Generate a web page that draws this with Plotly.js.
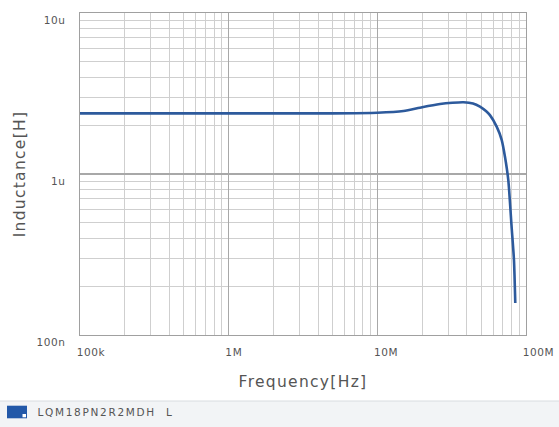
<!DOCTYPE html>
<html>
<head>
<meta charset="utf-8">
<script src="https://cdn.plot.ly/plotly-3.0.1.min.js"></script>
<style>
html,body{margin:0;padding:0;background:#fff;}
#chart{width:559px;height:427px;}
#chart .xtick text, #chart .ytick text { letter-spacing: 0.6px; }
#chart .g-xtitle text, #chart .g-ytitle text { letter-spacing: 1.3px; }
#chart .annotation-text { letter-spacing: 1.7px; }
</style>
</head>
<body>
<div id="chart"></div>
<script>
// Frequency [Hz]
const freq = [1e5, 2e5, 5e5, 1e6, 2e6, 5e6, 1e7, 1.5e7, 2e7, 2.64e7, 3.2e7, 3.8e7, 4.4e7, 4.9e7, 5.4e7, 5.72e7, 6.35e7, 6.86e7, 7.22e7, 7.6e7, 8.0e7, 8.3e7, 8.47e7];
// Inductance [H]
const induct = [2.38e-6, 2.38e-6, 2.38e-6, 2.38e-6, 2.38e-6, 2.38e-6, 2.40e-6, 2.46e-6, 2.60e-6, 2.72e-6, 2.77e-6, 2.79e-6, 2.74e-6, 2.62e-6, 2.45e-6, 2.32e-6, 1.97e-6, 1.63e-6, 1.28e-6, 0.918e-6, 0.471e-6, 0.292e-6, 0.158e-6];
const seriesName = "LQM18PN2R2MDH  L";
const xTickVals = [1e5, 1e6, 1e7, 1e8];
const xTickText = ["100k", "1M", "10M", "100M"];
const yTickVals = [1e-5, 1e-6, 1e-7];
const yTickText = ["10u", "1u", "100n"];

function minorVals(lo, hi) {
  const v = [];
  for (let d = lo; d < hi; d++) for (let m = 2; m <= 9; m++) v.push(m * Math.pow(10, d));
  return v;
}

const FONT = "DejaVu Sans, Verdana, sans-serif";
const tickFont = {family: FONT, size: 10.5, color: "#555"};
const titleFont = {family: FONT, size: 15.5, color: "#555"};

const trace = {
  x: freq, y: induct, type: "scatter", mode: "lines", name: seriesName,
  line: {color: "#2d5a9c", width: 2.6, shape: "spline", smoothing: 0.6},
  showlegend: false
};

const layout = {
  width: 559, height: 427,
  margin: {l: 80, r: 33, t: 13, b: 92},
  paper_bgcolor: "#fff", plot_bgcolor: "#fff",
  xaxis: {
    type: "log", range: [5, 8],
    tickvals: xTickVals, ticktext: xTickText,
    ticklabelposition: "outside right",
    ticklabelstandoff: 7,
    ticklabelshift: -4,
    ticks: "", tickfont: tickFont,
    showgrid: true, gridcolor: "#a8a8a8", gridwidth: 1.4,
    minor: {tickvals: minorVals(5, 8), showgrid: true, gridcolor: "#cfcfcf", gridwidth: 1, ticks: ""},
    showline: true, linecolor: "#a0a0a0", linewidth: 1.4, mirror: true,
    zeroline: false,
    title: {text: "Frequency[Hz]", font: titleFont, standoff: 19}
  },
  yaxis: {
    type: "log", range: [-7, -5],
    tickvals: yTickVals, ticktext: yTickText,
    ticklabelposition: "outside bottom",
    ticklabelstandoff: 11,
    ticks: "", tickfont: tickFont,
    showgrid: true, gridcolor: "#a8a8a8", gridwidth: 1.4,
    minor: {tickvals: minorVals(-7, -5), showgrid: true, gridcolor: "#cfcfcf", gridwidth: 1, ticks: ""},
    showline: true, linecolor: "#a0a0a0", linewidth: 1.4, mirror: true,
    zeroline: false,
    title: {text: "Inductance[H]", font: titleFont, standoff: 9}
  },
  shapes: [
    {type: "rect", xref: "paper", yref: "paper", x0: -80/446, x1: 1 + 33/446, y0: -92/322, y1: -66/322,
     fillcolor: "#f2f4f6", line: {width: 0}, layer: "below"},
    {type: "line", xref: "paper", yref: "paper", x0: -80/446, x1: 1 + 33/446, y0: -66/322, y1: -66/322,
     line: {color: "#d8dce0", width: 1}},
    {type: "rect", xref: "paper", yref: "paper", x0: -73/446, x1: -53/446, y0: -83.3/322, y1: -70.7/322,
     fillcolor: "#2258a8", line: {width: 0}},
    {type: "rect", xref: "paper", yref: "paper", x0: -57.5/446, x1: -54/446, y0: -82.3/322, y1: -79/322,
     fillcolor: "#ffffff", line: {width: 0}}
  ],
  annotations: [
    {xref: "paper", yref: "paper", x: -31/446, y: -76.7/322, xanchor: "left", yanchor: "middle",
     text: seriesName, showarrow: false,
     font: {family: FONT, size: 10.5, color: "#555"}}
  ]
};

Plotly.newPlot("chart", [trace], layout, {displayModeBar: false, staticPlot: true});
</script>
</body>
</html>
